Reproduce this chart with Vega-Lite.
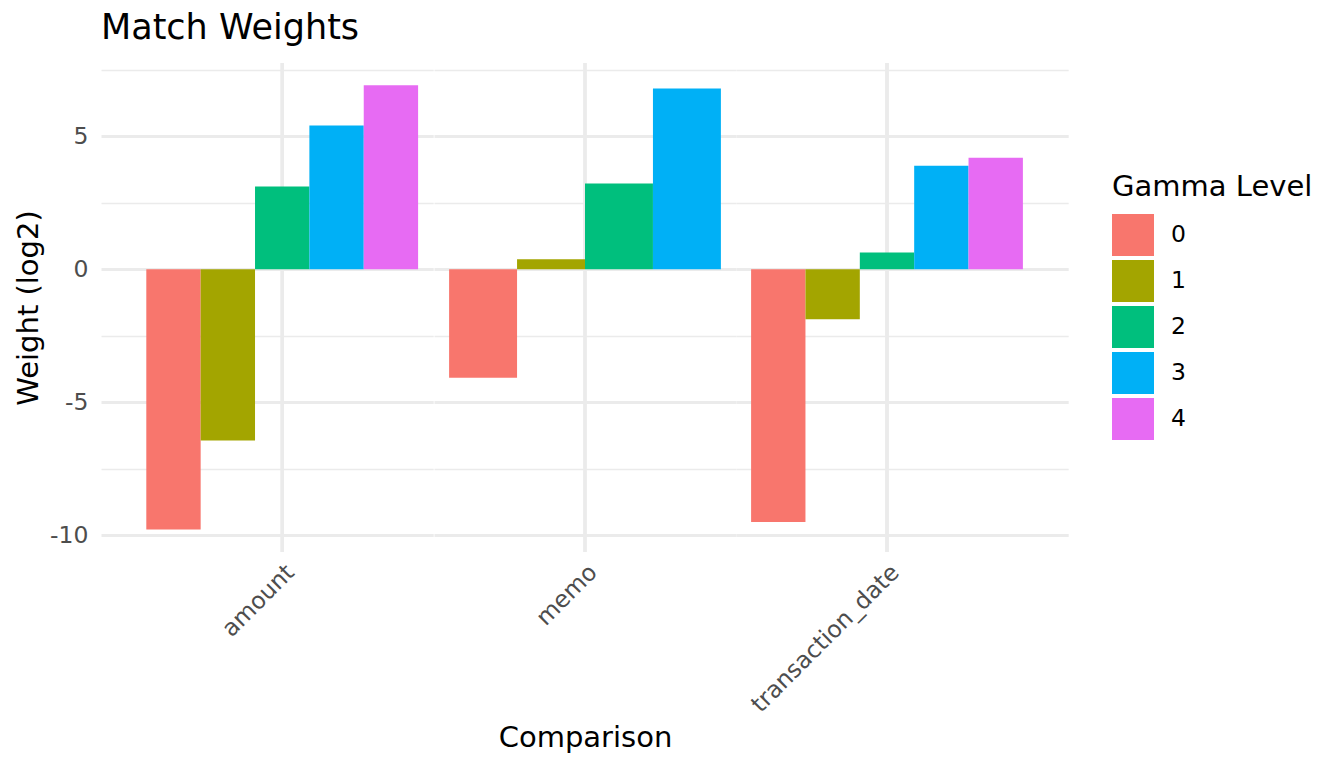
{
  "$schema": "https://vega.github.io/schema/vega-lite/v6.json",
  "padding": {"left": 14, "top": 10, "right": 10, "bottom": 10},
  "background": "white",
  "title": {
    "text": "Match Weights",
    "anchor": "start",
    "frame": "group",
    "fontSize": 35,
    "fontWeight": "normal",
    "font": "DejaVu Sans",
    "color": "black",
    "offset": 12
  },
  "data": {
    "values": [
      {"comparison": "amount", "gamma": "0", "weight": -9.78},
      {"comparison": "amount", "gamma": "1", "weight": -6.44},
      {"comparison": "amount", "gamma": "2", "weight": 3.12},
      {"comparison": "amount", "gamma": "3", "weight": 5.41},
      {"comparison": "amount", "gamma": "4", "weight": 6.92},
      {"comparison": "memo", "gamma": "0", "weight": -4.08},
      {"comparison": "memo", "gamma": "1", "weight": 0.38},
      {"comparison": "memo", "gamma": "2", "weight": 3.23},
      {"comparison": "memo", "gamma": "3", "weight": 6.8},
      {"comparison": "transaction_date", "gamma": "0", "weight": -9.5},
      {"comparison": "transaction_date", "gamma": "1", "weight": -1.88},
      {"comparison": "transaction_date", "gamma": "2", "weight": 0.63},
      {"comparison": "transaction_date", "gamma": "3", "weight": 3.9},
      {"comparison": "transaction_date", "gamma": "4", "weight": 4.2}
    ]
  },
  "spacing": 0,
  "bounds": "flush",
  "resolve": {"scale": {"y": "shared", "color": "shared", "x": "independent"}},
  "hconcat": [
    {
      "width": 332.2,
      "height": 489,
      "transform": [{"filter": "datum.comparison === 'amount'"}],
      "layer": [
        {
          "mark": {"type": "rule", "color": "#ebebeb", "strokeWidth": 2.8},
          "encoding": {
            "x": {"field": "comparison", "type": "nominal", "title": null,
              "scale": {"paddingInner": 0, "paddingOuter": 0.05, "align": 1}}
          }
        },
        {
          "mark": {"type": "bar"},
          "encoding": {
            "x": {"field": "gamma", "type": "nominal", "axis": null,
              "scale": {"paddingInner": 0, "paddingOuter": 0.5556, "align": 0.75}},
            "y": {"field": "weight", "type": "quantitative", "title": "Weight (log2)",
              "axis": {"values": [-10, -7.5, -5, -2.5, 0, 2.5, 5, 7.5]},
              "scale": {"domain": [-10.63, 7.76], "nice": false, "zero": false}},
            "color": {"field": "gamma", "type": "nominal", "title": "Gamma Level"}
          }
        }
      ],
      "resolve": {"scale": {"x": "independent"}, "axis": {"x": "independent"}}
    },
    {
      "width": 302,
      "height": 489,
      "transform": [{"filter": "datum.comparison === 'memo'"}],
      "layer": [
        {
          "mark": {"type": "rule", "color": "#ebebeb", "strokeWidth": 2.8},
          "encoding": {
            "x": {"field": "comparison", "type": "nominal", "title": "Comparison",
              "axis": {"titlePadding": 94},
              "scale": {"paddingInner": 0, "paddingOuter": 0, "align": 0.5}}
          }
        },
        {
          "mark": {"type": "bar"},
          "encoding": {
            "x": {"field": "gamma", "type": "nominal", "axis": null,
              "scale": {"paddingInner": 0, "paddingOuter": 0.2222, "align": 0.5}},
            "y": {"field": "weight", "type": "quantitative",
              "axis": {"labels": false, "title": null, "values": [-10, -7.5, -5, -2.5, 0, 2.5, 5, 7.5]},
              "scale": {"domain": [-10.63, 7.76], "nice": false, "zero": false}},
            "color": {"field": "gamma", "type": "nominal", "title": "Gamma Level"}
          }
        }
      ],
      "resolve": {"scale": {"x": "independent"}, "axis": {"x": "independent"}}
    },
    {
      "width": 332.2,
      "height": 489,
      "transform": [{"filter": "datum.comparison === 'transaction_date'"}],
      "layer": [
        {
          "mark": {"type": "rule", "color": "#ebebeb", "strokeWidth": 2.8},
          "encoding": {
            "x": {"field": "comparison", "type": "nominal", "title": null,
              "scale": {"paddingInner": 0, "paddingOuter": 0.05, "align": 0}}
          }
        },
        {
          "mark": {"type": "bar"},
          "encoding": {
            "x": {"field": "gamma", "type": "nominal", "axis": null,
              "scale": {"paddingInner": 0, "paddingOuter": 0.5556, "align": 0.25}},
            "y": {"field": "weight", "type": "quantitative",
              "axis": {"labels": false, "title": null, "values": [-10, -7.5, -5, -2.5, 0, 2.5, 5, 7.5]},
              "scale": {"domain": [-10.63, 7.76], "nice": false, "zero": false}},
            "color": {"field": "gamma", "type": "nominal", "title": "Gamma Level"}
          }
        }
      ],
      "resolve": {"scale": {"x": "independent"}, "axis": {"x": "independent"}}
    }
  ],
  "config": {
    "font": "DejaVu Sans",
    "view": {"stroke": null},
    "axis": {
      "domain": false,
      "ticks": false,
      "tickSize": 0,
      "labelFont": "DejaVu Sans",
      "labelFontSize": 23.5,
      "labelColor": "#4d4d4d",
      "labelOverlap": false,
      "labelLimit": 0,
      "titleFont": "DejaVu Sans",
      "titleFontSize": 29,
      "titleFontWeight": "normal",
      "titleColor": "black"
    },
    "axisX": {
      "grid": false,
      "labelAngle": -45,
      "labelPadding": 8
    },
    "axisY": {
      "labelExpr": "datum.value % 5 === 0 ? toString(datum.value) : ''",
      "labelFlush": false,
      "labelPadding": 13,
      "titlePadding": 6,
      "grid": true,
      "gridColor": "#ebebeb",
      "gridWidth": {"condition": {"test": "datum.value % 5 === 0", "value": 2.8}, "value": 1.4}
    },
    "range": {"category": ["#F8766D", "#A3A500", "#00BF7D", "#00B0F6", "#E76BF3"]},
    "legend": {
      "orient": "none",
      "legendX": 1011,
      "legendY": 110,
      "titleFont": "DejaVu Sans",
      "titleFontSize": 29,
      "titleFontWeight": "normal",
      "titleColor": "black",
      "titleLimit": 0,
      "titlePadding": 12,
      "labelFont": "DejaVu Sans",
      "labelFontSize": 23.5,
      "labelColor": "black",
      "labelOffset": 17,
      "symbolType": "square",
      "symbolSize": 1764,
      "symbolStrokeWidth": 0,
      "symbolOpacity": 1,
      "rowPadding": 4,
      "padding": 0
    }
  }
}
